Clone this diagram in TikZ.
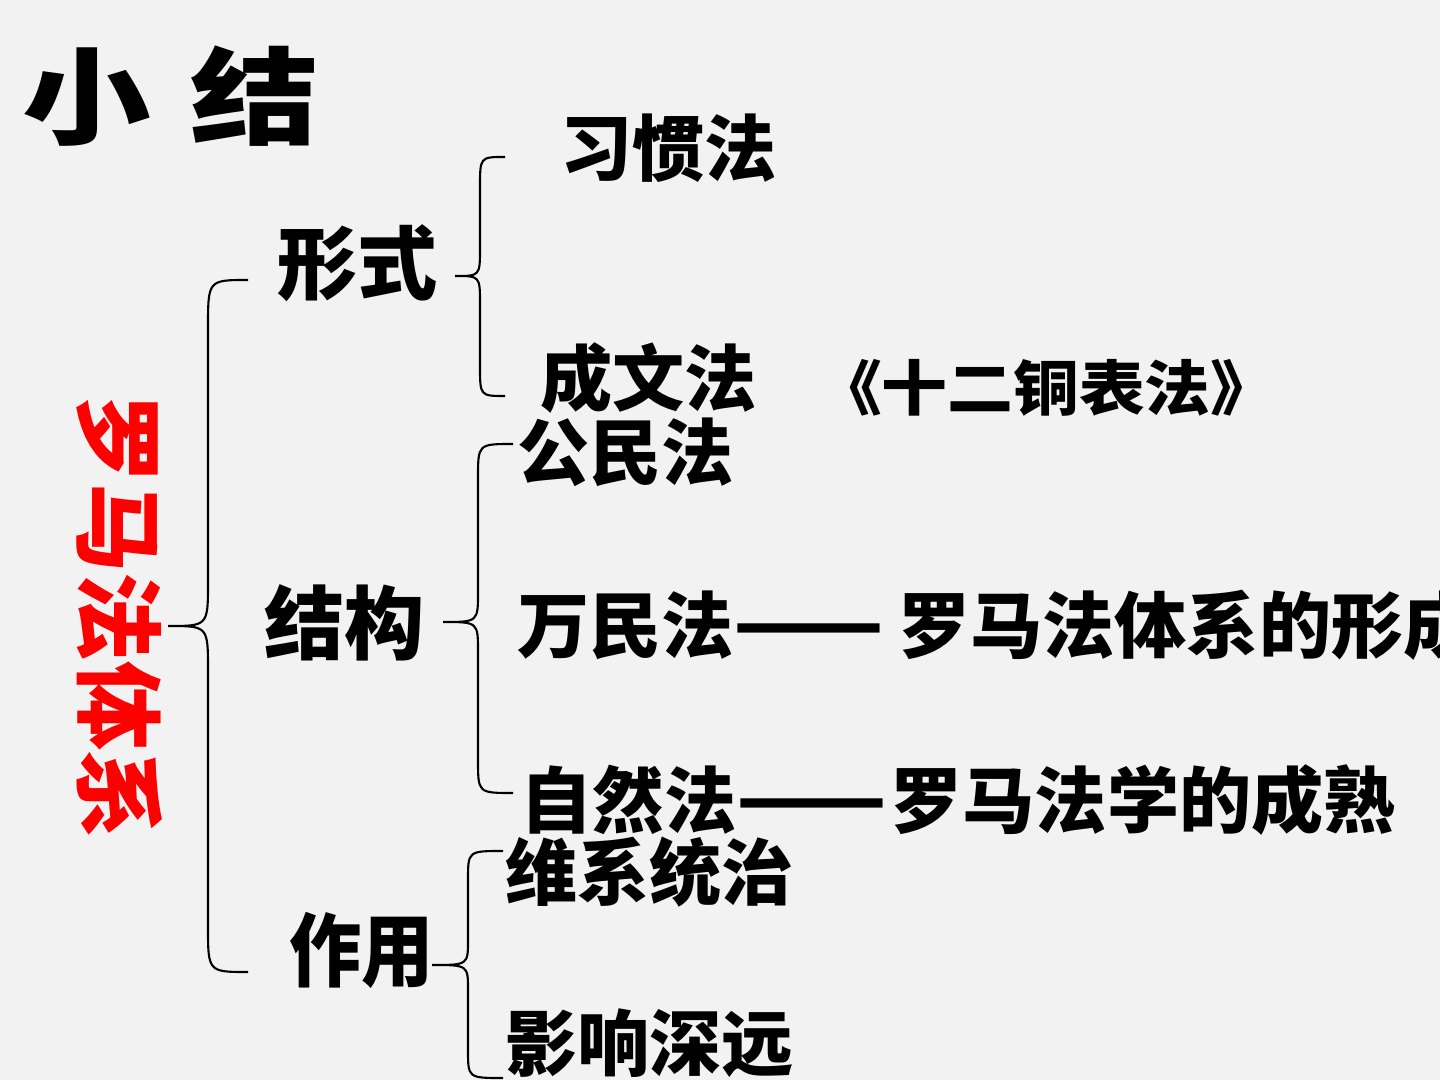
\documentclass[tikz,border=0pt]{standalone}
\usepackage{fontspec}
\newfontfamily\cjk{Noto Sans CJK SC}
\definecolor{bgcol}{HTML}{F2F2F2}
\definecolor{redtxt}{HTML}{FF0000}
\newcommand{\longdash}{\scalebox{1.22}[1.15]{——}}
\begin{document}
\begin{tikzpicture}[x=0.01cm,y=-0.01cm,
  lbl/.style={anchor=west,inner sep=0pt,outer sep=0pt,font=\cjk\bfseries\fontsize{20.5pt}{24pt}\selectfont},
  midlbl/.style={lbl,font=\cjk\bfseries\fontsize{22.8pt}{26pt}\selectfont},
  smalllbl/.style={lbl,font=\cjk\bfseries\fontsize{17pt}{20pt}\selectfont},
  bracepath/.style={draw=black,line width=0.6pt}]
\useasboundingbox (0,0) rectangle (1440,1080);
\fill[bgcol] (0,0) rectangle (1440,1080);

% title
\node[anchor=west,inner sep=0pt,xscale=1.22,font=\cjk\bfseries\fontsize{30pt}{34pt}\selectfont] (title) at (22,96) {小\hspace{0.3em}结};

% red vertical label
\node[rotate=-90,inner sep=0pt,text=redtxt,font=\cjk\bfseries\fontsize{25.3pt}{28pt}\selectfont] (root) at (120,617) {罗马法体系};

% second level
\node[midlbl] (xingshi) at (277,263) {形式};
\node[midlbl] (jiegou) at (264,623) {结构};
\node[midlbl,xscale=0.9] (zuoyong) at (289,950) {作用};

% third level
\node[lbl] (xiguan) at (560,148) {习惯法};
\node[lbl] (chengwen) at (540,378) {成文法};
\node[smalllbl,xscale=1.1] (shier) at (816,388) {《十二铜表法》};
\node[lbl] (gongmin) at (517,452) {公民法};
\node[lbl] (wanmin) at (517,625) {万民法\longdash\hspace{0.2em}罗马法体系的形成};
\node[lbl] (ziran) at (520,800) {自然法\longdash\hspace{0.05em}罗马法学的成熟};
\node[lbl] (weixi) at (505,872) {维系统治};
\node[lbl] (yingxiang) at (505,1043) {影响深远};

% big brace
\draw[bracepath] (248,280) .. controls (208,280) .. (208,328) -- (208,582)
  .. controls (208,626) .. (168,626) .. controls (208,626) .. (208,670) -- (208,926)
  .. controls (208,972) .. (248,972);
% form brace
\draw[bracepath] (505,157) .. controls (480,157) .. (480,187) -- (480,248)
  .. controls (480,276) .. (455,276) .. controls (480,276) .. (480,304) -- (480,366)
  .. controls (480,396) .. (505,396);
% structure brace
\draw[bracepath] (513,444) .. controls (478,444) .. (478,478) -- (478,592)
  .. controls (478,622) .. (443,622) .. controls (478,622) .. (478,652) -- (478,760)
  .. controls (478,793) .. (513,793);
% function brace
\draw[bracepath] (503,851) .. controls (468,851) .. (468,880) -- (468,940)
  .. controls (468,965) .. (432,965) .. controls (468,965) .. (468,990) -- (468,1050)
  .. controls (468,1078) .. (503,1078);
\end{tikzpicture}
\end{document}
